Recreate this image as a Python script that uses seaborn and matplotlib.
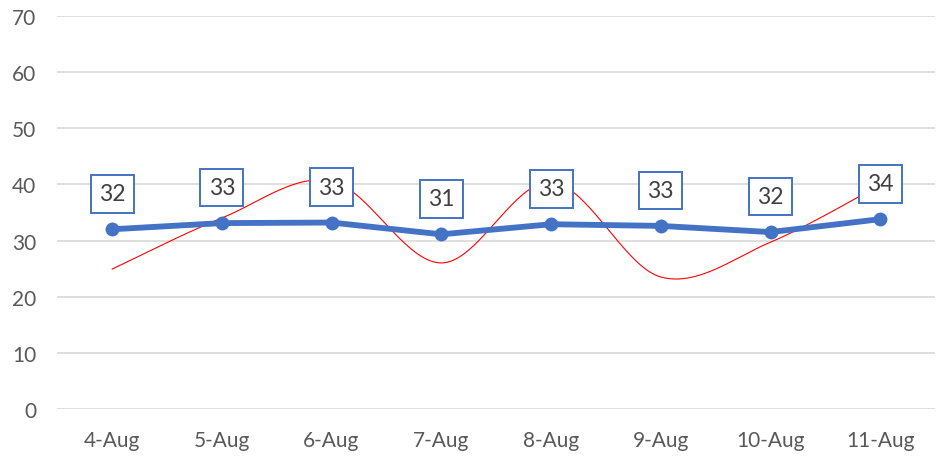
import numpy as np
import pandas as pd
import seaborn as sns
import matplotlib.pyplot as plt

# Data
dates = ["4-Aug", "5-Aug", "6-Aug", "7-Aug", "8-Aug", "9-Aug", "10-Aug", "11-Aug"]
avg_values = [32.0, 33.1, 33.2, 31.1, 32.9, 32.6, 31.5, 33.8]
red_values = [24.9, 34.0, 40.6, 26.0, 40.4, 23.5, 29.7, 39.9]


def smooth_curve(xs, ys, n=40):
    # Excel-style smoothed line: Catmull-Rom segments between the points
    xs = np.asarray(xs, float)
    ys = np.asarray(ys, float)
    px = np.concatenate([[xs[0]], xs, [xs[-1]]])
    py = np.concatenate([[ys[0]], ys, [ys[-1]]])
    out_x, out_y = [], []
    t = np.linspace(0, 1, n)
    for i in range(1, len(px) - 2):
        p0, p1, p2, p3 = (np.array([px[j], py[j]]) for j in range(i - 1, i + 3))
        c1 = p1 + (p2 - p0) / 6
        c2 = p2 - (p3 - p1) / 6
        pts = ((1 - t) ** 3)[:, None] * p1 + (3 * (1 - t) ** 2 * t)[:, None] * c1 \
            + (3 * (1 - t) * t ** 2)[:, None] * c2 + (t ** 3)[:, None] * p2
        out_x.extend(pts[:, 0])
        out_y.extend(pts[:, 1])
    return np.array(out_x), np.array(out_y)


sns.set_style("white")
plt.rcParams['font.family'] = ['Lato', 'DejaVu Sans']

fig = plt.figure(figsize=(9.37, 4.6), dpi=100)
ax = fig.add_axes([0.061, 0.109, 0.937, 0.854])

pos = np.arange(len(dates))
df = pd.DataFrame({"pos": pos, "avg": avg_values})

sx, sy = smooth_curve(pos, red_values)
sns.lineplot(x=sx, y=sy, ax=ax, color="#FF0000", linewidth=0.8, sort=False, zorder=2)

sns.lineplot(data=df, x="pos", y="avg", ax=ax, color="#4472C4", linewidth=4.2,
             marker="o", markersize=10, markeredgewidth=0, zorder=3)

for x, v in zip(pos, avg_values):
    ax.annotate(f"{v:.0f}", (x, v), xytext=(0, 25.5), textcoords="offset points",
                ha="center", va="center", fontsize=16.5, color="#404040",
                bbox=dict(boxstyle="square,pad=0.36", fc="white", ec="#4472C4", lw=1.4),
                zorder=4)

ax.set_xlim(-0.5, len(dates) - 0.5)
ax.set_ylim(0, 70)
ax.set_yticks(range(0, 71, 10))
ax.set_xticks(pos)
ax.set_xticklabels(dates)
ax.tick_params(axis="both", length=0, labelsize=15, labelcolor="#595959")
ax.tick_params(axis="x", pad=15)
ax.tick_params(axis="y", pad=15)
ax.grid(axis="y", color="#D9D9D9", linewidth=1.2)
ax.set_axisbelow(True)
ax.set_xlabel("")
ax.set_ylabel("")
for s in ax.spines.values():
    s.set_visible(False)

fig.savefig("out.png", dpi=100)
